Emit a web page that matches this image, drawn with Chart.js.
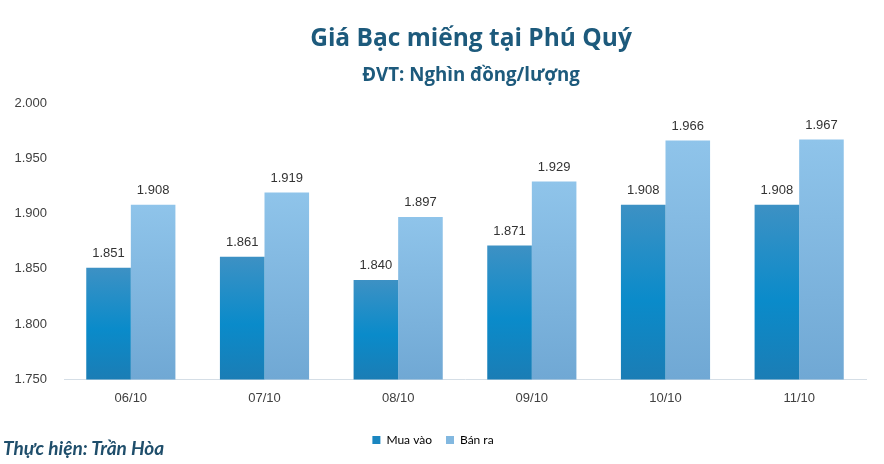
<!DOCTYPE html>
<html lang="vi">
<head>
<meta charset="utf-8">
<script src="https://cdn.jsdelivr.net/npm/chart.js@4/dist/chart.umd.min.js"></script>
<style>
    html, body { margin: 0; padding: 0; background: #ffffff; }
    #wrap { position: relative; width: 884px; height: 464px; }
    .head {
        position: absolute; left: 171px; width: 600px; text-align: center;
        font-family: "Open Sans", sans-serif; font-weight: 700; color: #1d5a7c;
        white-space: nowrap;
    }
    #title { top: 22px; font-size: 24.5px; line-height: 30px; }
    #subtitle { top: 62px; font-size: 18.7px; line-height: 24px; }
    #credit {
        position: absolute; left: 3px; top: 436px;
        font: italic 700 19px Lato, "Open Sans", sans-serif;
        color: #1f4e6b;
    }
</style>
</head>
<body>
<div id="wrap">
    <canvas id="priceChart" width="884" height="464"></canvas>
    <div class="head" id="title">Giá Bạc miếng tại Phú Quý</div>
    <div class="head" id="subtitle">ĐVT: Nghìn đồng/lượng</div>
    <div id="credit">Thực hiện: Trần Hòa</div>
</div>
<script>
const dates = ['06/10', '07/10', '08/10', '09/10', '10/10', '11/10'];
const buyPrices = [1851, 1861, 1840, 1871, 1908, 1908];
const sellPrices = [1908, 1919, 1897, 1929, 1966, 1967];
const yTicks = [1750, 1800, 1850, 1900, 1950, 2000];

function fmt(v) {
    // 1851 -> "1.851"
    return String(Math.round(v)).replace(/\B(?=(\d{3})+(?!\d))/g, '.');
}

// gradient per bar, from its top down to the baseline
function barGradient(stops, fallback) {
    return function(ctx) {
        const chart = ctx.chart;
        const area = chart.chartArea;
        if (!area || ctx.parsed === undefined) return fallback;
        const top = chart.scales.y.getPixelForValue(ctx.parsed.y);
        const g = chart.ctx.createLinearGradient(0, top, 0, area.bottom);
        stops.forEach(function(s) { g.addColorStop(s[0], s[1]); });
        return g;
    };
}

const valueLabels = {
    id: 'valueLabels',
    afterDatasetsDraw(chart) {
        const c = chart.ctx;
        c.save();
        c.font = '13px "Liberation Sans", Arial, sans-serif';
        c.fillStyle = '#333333';
        c.textAlign = 'center';
        c.textBaseline = 'bottom';
        chart.data.datasets.forEach(function(ds, i) {
            chart.getDatasetMeta(i).data.forEach(function(bar, j) {
                c.fillText(fmt(ds.data[j]), bar.x, bar.y - 8);
            });
        });
        c.restore();
    }
};

new Chart(document.getElementById('priceChart'), {
    type: 'bar',
    data: {
        labels: dates,
        datasets: [
            {
                label: 'Mua vào',
                data: buyPrices,
                backgroundColor: barGradient([[0, '#3d91c4'], [0.55, '#0a8bca'], [1, '#1b7db5']], '#1a8bc6'),
                borderWidth: 0
            },
            {
                label: 'Bán ra',
                data: sellPrices,
                backgroundColor: barGradient([[0, '#8fc4ea'], [1, '#70a8d4']], '#82b8e0'),
                borderWidth: 0
            }
        ]
    },
    options: {
        responsive: false,
        animation: false,
        datasets: {
            bar: { categoryPercentage: 0.667, barPercentage: 1 }
        },
        layout: { padding: { left: 0, right: 18, top: 103, bottom: 8 } },
        plugins: {
            legend: {
                position: 'bottom',
                labels: {
                    boxWidth: 8,
                    boxHeight: 8,
                    padding: 14,
                    color: '#333333',
                    font: { family: 'Lato', size: 12 },
                    generateLabels(chart) {
                        const solid = ['#1a86c0', '#82b8e0'];
                        return chart.data.datasets.map(function(ds, i) {
                            return {
                                text: ds.label,
                                fillStyle: solid[i],
                                strokeStyle: solid[i],
                                lineWidth: 0,
                                datasetIndex: i
                            };
                        });
                    }
                }
            },
            tooltip: { enabled: false }
        },
        scales: {
            x: {
                grid: { display: false },
                border: { display: true, color: '#d5dee6', width: 1 },
                afterFit(axis) {
                    // leave room between the date labels and the legend
                    axis.height += 11;
                },
                ticks: {
                    color: '#404040',
                    padding: 3,
                    font: { family: '"Liberation Sans", Arial, sans-serif', size: 13 }
                }
            },
            y: {
                min: yTicks[0],
                max: yTicks[yTicks.length - 1],
                afterBuildTicks(axis) {
                    axis.ticks = yTicks.map(function(v) { return { value: v }; });
                },
                afterFit(axis) {
                    axis.width = 64;
                },
                grid: { display: false, drawTicks: false },
                border: { display: false },
                ticks: {
                    color: '#404040',
                    padding: 17,
                    font: { family: '"Liberation Sans", Arial, sans-serif', size: 13 },
                    callback: function(v) { return fmt(v); }
                }
            }
        }
    },
    plugins: [valueLabels]
});
</script>
</body>
</html>
